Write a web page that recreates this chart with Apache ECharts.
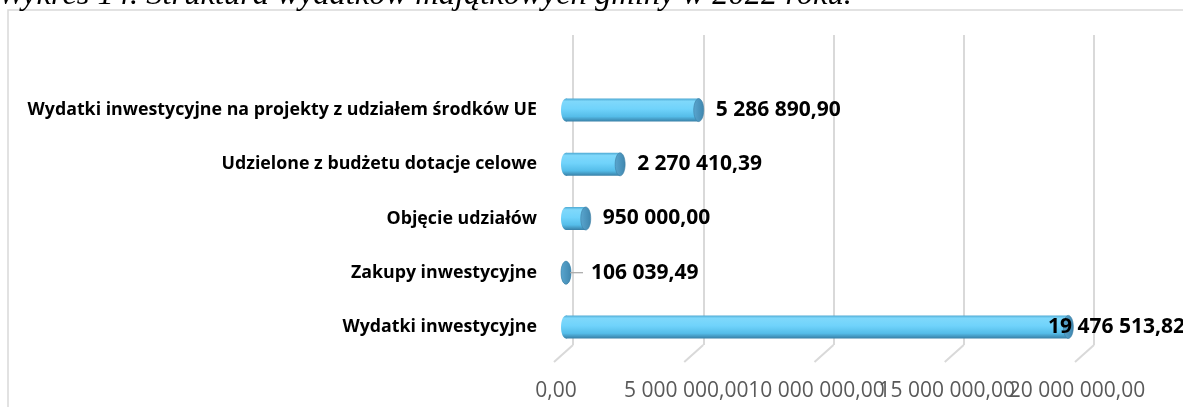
<!DOCTYPE html>
<html>
<head>
<meta charset="utf-8">
<script src="https://cdn.jsdelivr.net/npm/echarts@6/dist/echarts.min.js"></script>
<style>
html, body { margin: 0; padding: 0; background: #fff; }
#chart { width: 1183px; height: 407px; }
</style>
</head>
<body>
<div id="chart"></div>
<script>
// dane (od dołu do góry, jak w osi kategorii)
var categories = ['Wydatki inwestycyjne', 'Zakupy inwestycyjne', 'Objęcie udziałów',
	'Udzielone z budżetu dotacje celowe', 'Wydatki inwestycyjne na projekty z udziałem środków UE'];
var values = [19476513.82, 106039.49, 950000.00, 2270410.39, 5286890.90];
var tickValues = [0, 5000000, 10000000, 15000000, 20000000];
var title = 'Wykres 14. Struktura wydatków majątkowych gminy w 2022 roku.';

var AXIS_MAX = 20000000;
var AXIS_STEP = 5000000;

function plNumber(v) {
	var p = Number(v).toFixed(2).split('.');
	return p[0].replace(/\B(?=(\d{3})+(?!\d))/g, ' ') + ',' + p[1];
}

var measureCtx = document.createElement('canvas').getContext('2d');
var LABEL_FONT = 'bold 21px "Open Sans"';
var TICK_FONT = '21px "Open Sans"';
function textWidth(str, font) {
	measureCtx.font = font;
	return measureCtx.measureText(str).width;
}

var chart = echarts.init(document.getElementById('chart'), null, { renderer: 'canvas' });

var bodyGradient = function() {
	return new echarts.graphic.LinearGradient(0, 0, 0, 1, [
		{ offset: 0, color: '#4ea9d3' },
		{ offset: 0.12, color: '#7fd8fb' },
		{ offset: 0.45, color: '#70d3fb' },
		{ offset: 0.78, color: '#55bde9' },
		{ offset: 1, color: '#387fa6' }
	]);
};
var capGradient = function() {
	return new echarts.graphic.LinearGradient(0, 0, 1, 0, [
		{ offset: 0, color: '#5aa6cf' },
		{ offset: 1, color: '#3f86ae' }
	]);
};

// "podłoga" 3D + podpisy osi (Excel przesuwa je w lewo-dół)
function renderFloor(params, api) {
	var v = api.value(0);
	var p = api.coord([v, 0]);
	return {
		type: 'group',
		children: [{
			type: 'line',
			shape: { x1: p[0], y1: p[1], x2: p[0] - 19, y2: p[1] + 17 },
			style: { stroke: '#d9d9d9', lineWidth: 2 }
		}, {
			type: 'text',
			x: p[0] - 17,
			y: p[1] + 46,
			style: { text: plNumber(v), font: TICK_FONT, fill: '#595959', align: 'center', verticalAlign: 'middle' }
		}]
	};
}

function renderBar(params, api) {
	var v = api.value(0);
	var idx = api.value(1);
	var s = api.coord([0, idx]);
	var e = api.coord([v, idx]);
	var h = 23, rx = 5;
	var x0 = s[0], cy = s[1], y0 = cy - h / 2;
	var xr = Math.max(e[0], x0 + rx);
	var capRight = xr + rx;
	var small = (e[0] - s[0]) < 8;

	var children = [{
		type: 'rect',
		shape: { x: x0 + rx, y: y0, width: xr - (x0 + rx), height: h },
		style: { fill: bodyGradient() }
	}, {
		type: 'ellipse',
		shape: { cx: x0 + rx, cy: cy, rx: rx, ry: h / 2 },
		style: { fill: bodyGradient() }
	}, {
		type: 'ellipse',
		shape: { cx: xr, cy: cy, rx: rx, ry: h / 2 },
		style: { fill: capGradient(), stroke: '#3c7ea3', lineWidth: 0.6 }
	}];

	var txt = plNumber(v);
	var lx = capRight + 12;
	if (small) {
		children.push({
			type: 'line',
			shape: { x1: capRight - 1, y1: cy, x2: capRight + 12, y2: cy },
			style: { stroke: '#a6a6a6', lineWidth: 1.2 }
		});
		lx = capRight + 20;
	}
	var w = textWidth(txt, LABEL_FONT);
	if (lx + w > api.getWidth()) lx = api.getWidth() - w + 2;
	children.push({
		type: 'text',
		x: lx,
		y: cy,
		style: { text: txt, font: LABEL_FONT, fill: '#000', align: 'left', verticalAlign: 'middle' }
	});
	return { type: 'group', children: children };
}

var option = {
	backgroundColor: '#fff',
	animation: false,
	grid: [{
		left: 573, right: 89, top: 35, bottom: 62
	}, {
		left: 561, right: 101, top: 83, bottom: 53
	}],
	xAxis: [{
		gridIndex: 0,
		type: 'value',
		min: 0,
		max: AXIS_MAX,
		interval: AXIS_STEP,
		axisLine: { show: false },
		axisTick: { show: false },
		axisLabel: { show: false },
		splitLine: { show: true, lineStyle: { color: '#d9d9d9', width: 2 } }
	}, {
		gridIndex: 1,
		type: 'value',
		min: 0,
		max: AXIS_MAX,
		show: false
	}],
	yAxis: [{
		gridIndex: 0,
		type: 'value',
		min: 0,
		max: 1,
		show: false
	}, {
		gridIndex: 1,
		type: 'category',
		data: categories,
		axisLine: { show: false },
		axisTick: { show: false },
		splitLine: { show: false },
		axisLabel: {
			color: '#000',
			fontSize: 17.8,
			fontWeight: 'bold',
			fontFamily: 'Open Sans',
			margin: 24
		}
	}],
	graphic: [{
		type: 'rect',
		silent: true,
		z: -10,
		shape: { x: 8, y: 10, width: 1300, height: 500 },
		style: { fill: null, stroke: '#d9d9d9', lineWidth: 1.5 }
	}, {
		type: 'text',
		silent: true,
		x: -2,
		y: 12,
		style: { text: title, font: 'italic 32.5px "Liberation Serif"', fill: '#000', verticalAlign: 'bottom' }
	}],
	series: [{
		type: 'custom',
		name: 'floor',
		xAxisIndex: 0,
		yAxisIndex: 0,
		silent: true,
		clip: false,
		data: tickValues.map(function(t) { return [t, 0]; }),
		renderItem: renderFloor
	}, {
		type: 'custom',
		name: 'wydatki',
		xAxisIndex: 1,
		yAxisIndex: 1,
		clip: false,
		encode: { x: 0, y: 1 },
		data: values.map(function(v, i) { return [v, i]; }),
		renderItem: renderBar
	}]
};

chart.setOption(option);
</script>
</body>
</html>
